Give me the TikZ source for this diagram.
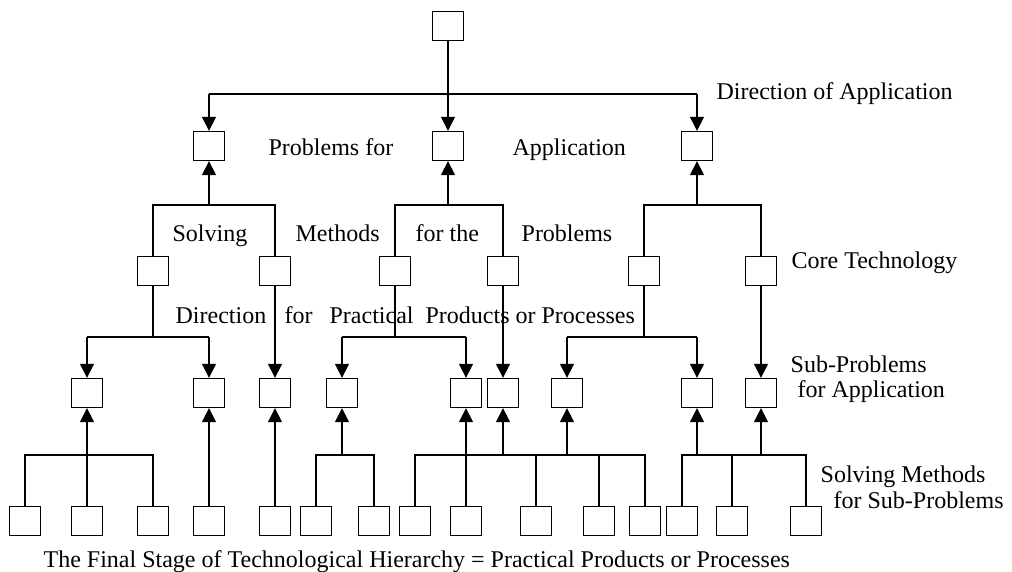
\documentclass[tikz,border=0pt]{standalone}
\usepackage{fontspec}
\setmainfont{Liberation Serif}
\usetikzlibrary{arrows.meta}

\begin{document}
\begin{tikzpicture}[x=1pt,y=-1pt,line width=1.3pt,
	box/.style={draw,minimum width=31pt,minimum height=29pt,inner sep=0pt},
	arr/.style={-{Triangle[length=14pt,width=14pt]}},
	lbl/.style={anchor=base west,inner sep=0pt,font=\fontsize{24}{28}\selectfont}]
	\useasboundingbox (0,0) rectangle (1012,572);
	\node[box] (top) at (448,26) {};
	\node[box] (p1) at (209,146) {};
	\node[box] (p2) at (448,146) {};
	\node[box] (p3) at (697,146) {};
	\foreach \n/\x in {m1/153,m2/275,m3/395,m4/503,m5/644,m6/761}
		\node[box] (\n) at (\x,271) {};
	\foreach \n/\x in {s1/87,s2/209,s3/275,s4/342,s5/466,s6/503,s7/567,s8/697,s9/761}
		\node[box] (\n) at (\x,393) {};
	\foreach \n/\x in {f1/25,f2/87,f3/153,f4/209,f5/275,f6/316,f7/374,f8/415,f9/466,f10/536,f11/599,f12/645,f13/682,f14/732,f15/806}
		\node[box] (\n) at (\x,521) {};
	\coordinate (h0) at (0,94);
	\coordinate (h1) at (0,205);
	\coordinate (h2) at (0,337);
	\coordinate (h3) at (0,455);
	\draw (p1 |- h0) -- (p3 |- h0);
	\draw[arr] (top) -- (p2);
	\draw[arr] (p1 |- h0) -- (p1);
	\draw[arr] (p3 |- h0) -- (p3);
	\draw (m1) |- (m2 |- h1) -- (m2);
	\draw (m3) |- (m4 |- h1) -- (m4);
	\draw (m5) |- (m6 |- h1) -- (m6);
	\draw[arr] (p1 |- h1) -- (p1);
	\draw[arr] (p2 |- h1) -- (p2);
	\draw[arr] (p3 |- h1) -- (p3);
	\draw (m1) -- (m1 |- h2);
	\draw (m3) -- (m3 |- h2);
	\draw (m5) -- (m5 |- h2);
	\draw (s1 |- h2) -- (s2 |- h2);
	\draw (s4 |- h2) -- (s5 |- h2);
	\draw (s7 |- h2) -- (s8 |- h2);
	\foreach \s in {s1,s2,s4,s5,s7,s8}
		\draw[arr] (\s |- h2) -- (\s);
	\draw[arr] (m2) -- (s3);
	\draw[arr] (m4) -- (s6);
	\draw[arr] (m6) -- (s9);
	\draw (f1) |- (f3 |- h3) -- (f3);
	\draw (f6) |- (f7 |- h3) -- (f7);
	\draw (f8) |- (f12 |- h3) -- (f12);
	\draw (f13) |- (f15 |- h3) -- (f15);
	\foreach \f in {f9,f10,f11,f14}
		\draw (\f) -- (\f |- h3);
	\draw[arr] (f2) -- (s1);
	\draw[arr] (f4) -- (s2);
	\draw[arr] (f5) -- (s3);
	\foreach \s in {s4,s5,s6,s7,s8,s9}
		\draw[arr] (\s |- h3) -- (\s);
	\node[lbl] (dirapp) at (716,100) {Direction of Application};
	\node[lbl] (probfor) at (268,156) {Problems for};
	\node[lbl] (app) at (512,156) {Application};
	\node[lbl] (solving) at (172,242) {Solving};
	\node[lbl] (methods) at (295,242) {Methods};
	\node[lbl] (forthe) at (415,242) {for the};
	\node[lbl] (problems) at (521,242) {Problems};
	\node[lbl] (core) at (791,268) {Core Technology};
	\node[lbl] (direction) at (175,323) {Direction};
	\node[lbl] (for) at (284,323) {for};
	\node[lbl] (practical) at (329,323) {Practical};
	\node[lbl] (products) at (425,323) {Products or Processes};
	\node[lbl] (subprob) at (790,372) {Sub-Problems};
	\node[lbl] (forapp) at (797,397) {for Application};
	\node[lbl] (solvmeth) at (820,482) {Solving Methods};
	\node[lbl] (forsub) at (833,508) {for Sub-Problems};
	\node[lbl] (final) at (43,567) {The Final Stage of Technological Hierarchy = Practical Products or Processes};
\end{tikzpicture}
\end{document}
